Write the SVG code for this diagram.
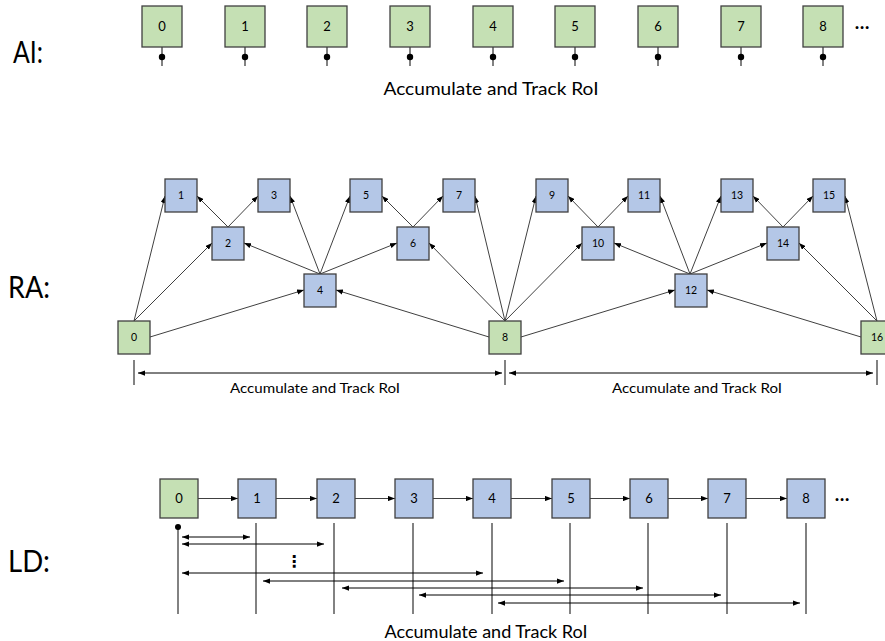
<svg xmlns="http://www.w3.org/2000/svg" width="885" height="641" viewBox="0 0 885 641">
<defs>
<marker id="ah" viewBox="0 0 8 6" refX="8" refY="3" markerWidth="7" markerHeight="5.5" markerUnits="userSpaceOnUse" orient="auto-start-reverse">
<path d="M0,0 L8,3 L0,6 z" fill="#000"/>
</marker>
<style>
.g{fill:#c5e0b4;stroke:#404040;stroke-width:1.3}
.b{fill:#b4c7e7;stroke:#404040;stroke-width:1.3}
.t{font-family:Lato,"Liberation Sans",sans-serif;fill:#000;text-anchor:middle}
.n13{font-size:13px}
.n10{font-size:10.5px}
.lab{font-family:Lato,"Open Sans","Liberation Sans",sans-serif;font-weight:400;font-size:31px;fill:#000}
.e{stroke:#404040;stroke-width:1;fill:none;marker-end:url(#ah)}
.d{stroke:#000;stroke-width:1;fill:none;marker-start:url(#ah);marker-end:url(#ah)}
.v{stroke:#404040;stroke-width:1.3;fill:none}
</style>
</defs>
<rect width="885" height="641" fill="#fff"/>

<!-- Labels -->
<text class="lab" x="13" y="63" textLength="30" lengthAdjust="spacingAndGlyphs">AI:</text>
<text class="lab" x="8" y="298" textLength="42" lengthAdjust="spacingAndGlyphs">RA:</text>
<text class="lab" x="8" y="572" textLength="42" lengthAdjust="spacingAndGlyphs">LD:</text>

<!-- AI row -->
<g id="ai-stems">
<path class="v" d="M162,47V66 M245,47V66 M327,47V66 M410,47V66 M493,47V66 M575,47V66 M658,47V66 M741,47V66 M823,47V66"/>
<g fill="#000">
<circle cx="162" cy="57" r="3.2"/><circle cx="245" cy="57" r="3.2"/><circle cx="327" cy="57" r="3.2"/><circle cx="410" cy="57" r="3.2"/><circle cx="493" cy="57" r="3.2"/><circle cx="575" cy="57" r="3.2"/><circle cx="658" cy="57" r="3.2"/><circle cx="741" cy="57" r="3.2"/><circle cx="823" cy="57" r="3.2"/>
</g>
</g>
<g id="ai0"><rect class="g" x="142" y="6" width="40" height="41"/><text class="t n13" x="162" y="31">0</text></g>
<g id="ai1"><rect class="g" x="225" y="6" width="40" height="41"/><text class="t n13" x="245" y="31">1</text></g>
<g id="ai2"><rect class="g" x="307" y="6" width="40" height="41"/><text class="t n13" x="327" y="31">2</text></g>
<g id="ai3"><rect class="g" x="390" y="6" width="40" height="41"/><text class="t n13" x="410" y="31">3</text></g>
<g id="ai4"><rect class="g" x="473" y="6" width="40" height="41"/><text class="t n13" x="493" y="31">4</text></g>
<g id="ai5"><rect class="g" x="555" y="6" width="40" height="41"/><text class="t n13" x="575" y="31">5</text></g>
<g id="ai6"><rect class="g" x="638" y="6" width="40" height="41"/><text class="t n13" x="658" y="31">6</text></g>
<g id="ai7"><rect class="g" x="721" y="6" width="40" height="41"/><text class="t n13" x="741" y="31">7</text></g>
<g id="ai8"><rect class="g" x="803" y="6" width="40" height="41"/><text class="t n13" x="823" y="31">8</text></g>
<text class="t" x="862" y="29" font-size="19" font-weight="700">…</text>
<text class="t" x="491" y="95" font-size="17" textLength="215" lengthAdjust="spacingAndGlyphs">Accumulate and Track RoI</text>

<!-- RA connectors -->
<g id="ra-edges">
<path class="e" d="M134,321L165,196"/>
<path class="e" d="M134,321L212,243"/>
<path class="e" d="M150,337L304,290"/>
<path class="e" d="M228,227L197,196"/>
<path class="e" d="M228,227L258,196"/>
<path class="e" d="M320,274L244,243"/>
<path class="e" d="M320,274L290,196"/>
<path class="e" d="M320,274L350,196"/>
<path class="e" d="M320,274L397,243"/>
<path class="e" d="M413,227L382,196"/>
<path class="e" d="M413,227L443,196"/>
<path class="e" d="M489,337L336,290"/>
<path class="e" d="M505,321L429,243"/>
<path class="e" d="M505,321L475,196"/>
<path class="e" d="M505,321L536,196"/>
<path class="e" d="M505,321L582,243"/>
<path class="e" d="M521,337L675,290"/>
<path class="e" d="M598,227L568,196"/>
<path class="e" d="M598,227L628,196"/>
<path class="e" d="M690,274L614,243"/>
<path class="e" d="M690,274L660,196"/>
<path class="e" d="M690,274L721,196"/>
<path class="e" d="M690,274L767,243"/>
<path class="e" d="M783,227L753,196"/>
<path class="e" d="M783,227L813,196"/>
<path class="e" d="M861,337L707,290"/>
<path class="e" d="M877,321L799,243"/>
<path class="e" d="M877,321L845,196"/>
</g>
<g id="ra0"><rect class="g" x="118" y="321" width="32" height="33"/><text class="t n10" x="134" y="341">0</text></g>
<g id="ra1"><rect class="b" x="165" y="179" width="32" height="33"/><text class="t n10" x="181" y="199">1</text></g>
<g id="ra2"><rect class="b" x="212" y="227" width="32" height="33"/><text class="t n10" x="228" y="247">2</text></g>
<g id="ra3"><rect class="b" x="258" y="179" width="32" height="33"/><text class="t n10" x="274" y="199">3</text></g>
<g id="ra4"><rect class="b" x="304" y="274" width="32" height="33"/><text class="t n10" x="320" y="294">4</text></g>
<g id="ra5"><rect class="b" x="350" y="179" width="32" height="33"/><text class="t n10" x="366" y="199">5</text></g>
<g id="ra6"><rect class="b" x="397" y="227" width="32" height="33"/><text class="t n10" x="413" y="247">6</text></g>
<g id="ra7"><rect class="b" x="443" y="179" width="32" height="33"/><text class="t n10" x="459" y="199">7</text></g>
<g id="ra8"><rect class="g" x="489" y="321" width="32" height="33"/><text class="t n10" x="505" y="341">8</text></g>
<g id="ra9"><rect class="b" x="536" y="179" width="32" height="33"/><text class="t n10" x="552" y="199">9</text></g>
<g id="ra10"><rect class="b" x="582" y="227" width="32" height="33"/><text class="t n10" x="598" y="247">10</text></g>
<g id="ra11"><rect class="b" x="628" y="179" width="32" height="33"/><text class="t n10" x="644" y="199">11</text></g>
<g id="ra12"><rect class="b" x="675" y="274" width="32" height="33"/><text class="t n10" x="691" y="294">12</text></g>
<g id="ra13"><rect class="b" x="721" y="179" width="32" height="33"/><text class="t n10" x="737" y="199">13</text></g>
<g id="ra14"><rect class="b" x="767" y="227" width="32" height="33"/><text class="t n10" x="783" y="247">14</text></g>
<g id="ra15"><rect class="b" x="813" y="179" width="32" height="33"/><text class="t n10" x="829" y="199">15</text></g>
<g id="ra16"><rect class="g" x="861" y="321" width="32" height="33"/><text class="t n10" x="877" y="341">16</text></g>

<!-- RA scale -->
<g id="ra-scale">
<path class="v" d="M134,360V385 M505,360V385 M877,360V385"/>
<path class="d" d="M138,373H502"/>
<path class="d" d="M509,373H873"/>
<text class="t" x="315" y="393" font-size="14" textLength="170" lengthAdjust="spacingAndGlyphs">Accumulate and Track RoI</text>
<text class="t" x="697" y="393" font-size="14" textLength="170" lengthAdjust="spacingAndGlyphs">Accumulate and Track RoI</text>
</g>

<!-- LD row -->
<g id="ld-edges">
<path class="e" d="M198,498.5H238"/>
<path class="e" d="M276,498.5H317"/>
<path class="e" d="M355,498.5H395"/>
<path class="e" d="M433,498.5H473"/>
<path class="e" d="M511,498.5H552"/>
<path class="e" d="M590,498.5H630"/>
<path class="e" d="M668,498.5H708"/>
<path class="e" d="M746,498.5H787"/>
</g>
<g id="ld0"><rect class="g" x="160" y="479" width="38" height="39"/><text class="t n13" x="179" y="503">0</text></g>
<g id="ld1"><rect class="b" x="238" y="479" width="38" height="39"/><text class="t n13" x="257" y="503">1</text></g>
<g id="ld2"><rect class="b" x="317" y="479" width="38" height="39"/><text class="t n13" x="336" y="503">2</text></g>
<g id="ld3"><rect class="b" x="395" y="479" width="38" height="39"/><text class="t n13" x="414" y="503">3</text></g>
<g id="ld4"><rect class="b" x="473" y="479" width="38" height="39"/><text class="t n13" x="492" y="503">4</text></g>
<g id="ld5"><rect class="b" x="552" y="479" width="38" height="39"/><text class="t n13" x="571" y="503">5</text></g>
<g id="ld6"><rect class="b" x="630" y="479" width="38" height="39"/><text class="t n13" x="649" y="503">6</text></g>
<g id="ld7"><rect class="b" x="708" y="479" width="38" height="39"/><text class="t n13" x="727" y="503">7</text></g>
<g id="ld8"><rect class="b" x="787" y="479" width="38" height="39"/><text class="t n13" x="806" y="503">8</text></g>
<text class="t" x="842" y="501" font-size="19" font-weight="700">…</text>

<g id="ld-scale">
<path class="v" d="M178,527V614 M256,523V614 M334,523V614 M413,523V614 M492,523V614 M570,523V614 M648,523V614 M727,523V614 M806,523V614"/>
<circle cx="178" cy="527" r="3" fill="#000"/>
<path class="d" d="M182,537H250"/>
<path class="d" d="M182,544H324"/>
<text x="294" y="567" font-family="DejaVu Sans,sans-serif" font-size="16" font-weight="700" text-anchor="middle">⋮</text>
<path class="d" d="M182,573H483"/>
<path class="d" d="M263,581H564"/>
<path class="d" d="M342,588H643"/>
<path class="d" d="M419,595H721"/>
<path class="d" d="M498,603H800"/>
<text class="t" x="486" y="638" font-size="17" textLength="203" lengthAdjust="spacingAndGlyphs">Accumulate and Track RoI</text>
</g>
</svg>
